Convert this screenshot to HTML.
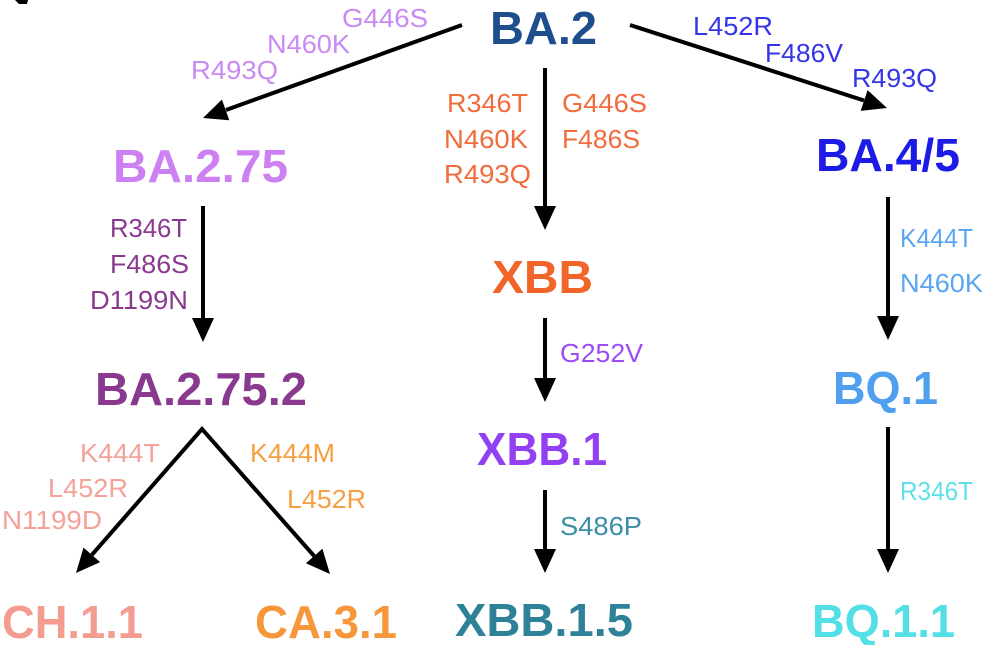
<!DOCTYPE html>
<html>
<head>
<meta charset="utf-8">
<style>
  html, body { margin: 0; padding: 0; background: #ffffff; }
  body { width: 1000px; height: 645px; overflow: hidden; }
  svg { display: block; }
  .big { font-family: "Liberation Sans", Arial, sans-serif; font-weight: bold; font-size: 46px; }
  .sm { font-family: "Liberation Sans", Arial, sans-serif; font-weight: normal; font-size: 26px; }
</style>
</head>
<body>
<svg width="1000" height="645" viewBox="0 0 1000 645" xmlns="http://www.w3.org/2000/svg">
  <!-- top-left partial artifact -->
  <polygon points="15,0 28,0 27,4 19,4" fill="#000"/>

  <!-- Arrows -->
  <g stroke="#000" stroke-width="4" fill="none" stroke-linecap="butt">
    <line x1="462" y1="25" x2="226" y2="110"/>
    <line x1="630" y1="25" x2="864" y2="100.5"/>
    <line x1="545" y1="68" x2="545" y2="207"/>
    <line x1="203" y1="206" x2="203" y2="319"/>
    <line x1="888" y1="197" x2="888" y2="317"/>
    <line x1="545" y1="318" x2="545" y2="379"/>
    <line x1="545" y1="490" x2="545" y2="550"/>
    <line x1="888" y1="427" x2="888" y2="550"/>
    <path d="M91.8,554.9 L202,429 L314.1,556" stroke-linejoin="miter"/>
  </g>
  <g fill="#000">
    <polygon points="203,118 229.3,120.2 221.9,99.5"/>
    <polygon points="887,108 860.7,110.9 867.6,90.1"/>
    <polygon points="545,230 534,206 556,206"/>
    <polygon points="203,342 192,318 214,318"/>
    <polygon points="888,340 877,316 899,316"/>
    <polygon points="545,402 534,378 556,378"/>
    <polygon points="545,573 534,549 556,549"/>
    <polygon points="888,573 877,549 899,549"/>
    <polygon points="76,573 100.1,562.1 83.5,547.6"/>
    <polygon points="330,574 305.9,563.3 322.4,548.7"/>
  </g>

  <!-- Big labels -->
  <text class="big" x="490" y="44" fill="#1f4e8e" textLength="107" lengthAdjust="spacingAndGlyphs">BA.2</text>
  <text class="big" x="113" y="182" fill="#cc80f2" textLength="175" lengthAdjust="spacingAndGlyphs">BA.2.75</text>
  <text class="big" x="816" y="171" fill="#1c1ce6" textLength="144" lengthAdjust="spacingAndGlyphs">BA.4/5</text>
  <text class="big" x="492" y="293" fill="#f26528" textLength="101" lengthAdjust="spacingAndGlyphs">XBB</text>
  <text class="big" x="95" y="405" fill="#8a3a8e" textLength="212" lengthAdjust="spacingAndGlyphs">BA.2.75.2</text>
  <text class="big" x="477" y="465" fill="#9140f2" textLength="130" lengthAdjust="spacingAndGlyphs">XBB.1</text>
  <text class="big" x="833" y="404" fill="#4f9ff0" textLength="105" lengthAdjust="spacingAndGlyphs">BQ.1</text>
  <text class="big" x="2" y="638" fill="#f59c91" textLength="141" lengthAdjust="spacingAndGlyphs">CH.1.1</text>
  <text class="big" x="255" y="638" fill="#f7963a" textLength="142" lengthAdjust="spacingAndGlyphs">CA.3.1</text>
  <text class="big" x="455" y="636" fill="#2f8198" textLength="178" lengthAdjust="spacingAndGlyphs">XBB.1.5</text>
  <text class="big" x="812" y="637" fill="#52dfe6" textLength="143" lengthAdjust="spacingAndGlyphs">BQ.1.1</text>

  <!-- Mutation labels: BA.2 -> BA.2.75 -->
  <text class="sm" x="342" y="27" fill="#c98af3" textLength="86" lengthAdjust="spacingAndGlyphs">G446S</text>
  <text class="sm" x="267" y="53" fill="#c98af3" textLength="83" lengthAdjust="spacingAndGlyphs">N460K</text>
  <text class="sm" x="191" y="79" fill="#c98af3" textLength="87" lengthAdjust="spacingAndGlyphs">R493Q</text>

  <!-- BA.2 -> BA.4/5 -->
  <text class="sm" x="693" y="35" fill="#3535e8" textLength="80" lengthAdjust="spacingAndGlyphs">L452R</text>
  <text class="sm" x="765" y="62" fill="#3535e8" textLength="78" lengthAdjust="spacingAndGlyphs">F486V</text>
  <text class="sm" x="852" y="87" fill="#3535e8" textLength="85" lengthAdjust="spacingAndGlyphs">R493Q</text>

  <!-- BA.2 -> XBB -->
  <text class="sm" x="447" y="112" fill="#f26b3c" textLength="81" lengthAdjust="spacingAndGlyphs">R346T</text>
  <text class="sm" x="444" y="148" fill="#f26b3c" textLength="84" lengthAdjust="spacingAndGlyphs">N460K</text>
  <text class="sm" x="444" y="183" fill="#f26b3c" textLength="87" lengthAdjust="spacingAndGlyphs">R493Q</text>
  <text class="sm" x="562" y="112" fill="#f26b3c" textLength="85" lengthAdjust="spacingAndGlyphs">G446S</text>
  <text class="sm" x="562" y="148" fill="#f26b3c" textLength="78" lengthAdjust="spacingAndGlyphs">F486S</text>

  <!-- BA.2.75 -> BA.2.75.2 -->
  <text class="sm" x="110" y="237" fill="#8a3a8e" textLength="77" lengthAdjust="spacingAndGlyphs">R346T</text>
  <text class="sm" x="110" y="273" fill="#8a3a8e" textLength="79" lengthAdjust="spacingAndGlyphs">F486S</text>
  <text class="sm" x="90" y="309" fill="#8a3a8e" textLength="98" lengthAdjust="spacingAndGlyphs">D1199N</text>

  <!-- BA.4/5 -> BQ.1 -->
  <text class="sm" x="900" y="247" fill="#5aa6f2" textLength="73" lengthAdjust="spacingAndGlyphs">K444T</text>
  <text class="sm" x="900" y="292" fill="#5aa6f2" textLength="83" lengthAdjust="spacingAndGlyphs">N460K</text>

  <!-- XBB -> XBB.1 -->
  <text class="sm" x="560" y="362" fill="#9b4cf5" textLength="83" lengthAdjust="spacingAndGlyphs">G252V</text>

  <!-- XBB.1 -> XBB.1.5 -->
  <text class="sm" x="560" y="535" fill="#3a8ea6" textLength="82" lengthAdjust="spacingAndGlyphs">S486P</text>

  <!-- BQ.1 -> BQ.1.1 -->
  <text class="sm" x="900" y="500" fill="#5ee0e8" textLength="73" lengthAdjust="spacingAndGlyphs">R346T</text>

  <!-- BA.2.75.2 -> CH.1.1 -->
  <text class="sm" x="80" y="462" fill="#f4a19a" textLength="80" lengthAdjust="spacingAndGlyphs">K444T</text>
  <text class="sm" x="48" y="497" fill="#f4a19a" textLength="80" lengthAdjust="spacingAndGlyphs">L452R</text>
  <text class="sm" x="2" y="529" fill="#f4a19a" textLength="100" lengthAdjust="spacingAndGlyphs">N1199D</text>

  <!-- BA.2.75.2 -> CA.3.1 -->
  <text class="sm" x="250" y="462" fill="#f5a042" textLength="85" lengthAdjust="spacingAndGlyphs">K444M</text>
  <text class="sm" x="287" y="508" fill="#f5a042" textLength="79" lengthAdjust="spacingAndGlyphs">L452R</text>
</svg>
</body>
</html>
